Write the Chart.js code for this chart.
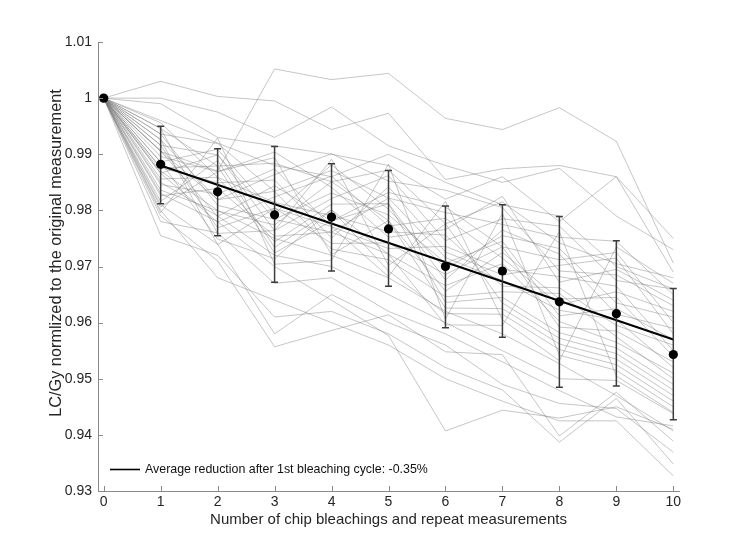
<!DOCTYPE html>
<html><head><meta charset="utf-8">
<script src="https://cdn.jsdelivr.net/npm/chart.js@4.4.0/dist/chart.umd.min.js"></script>
<style>html,body{margin:0;padding:0;background:#fff;}#wrap{width:750px;height:547px;}</style>
</head><body><div id="wrap"><canvas id="c" width="750" height="547"></canvas></div>
<script>
const xValues = [0,1,2,3,4,5,6,7,8,9,10];
const xTickLabels = ['0','1','2','3','4','5','6','7','8','9','10'];
const yTickValues = [0.93,0.94,0.95,0.96,0.97,0.98,0.99,1.00,1.01];
const yTickLabels = ['0.93','0.94','0.95','0.96','0.97','0.98','0.99','1','1.01'];
const xAxisTitle = 'Number of chip bleachings and repeat measurements';
const yAxisTitle = 'LC/Gy normlized to the original measurement';
const legendLabel = 'Average reduction after 1st bleaching cycle: -0.35%';

const meanValues = [1.0000,0.9882,0.9833,0.9792,0.9788,0.9767,0.9700,0.9692,0.9637,0.9616,0.9543];
const errUpper   = [null,0.9950,0.9910,0.9914,0.9883,0.9871,0.9808,0.9810,0.9789,0.9746,0.9661];
const errLower   = [null,0.9812,0.9755,0.9672,0.9692,0.9665,0.9591,0.9574,0.9485,0.9487,0.9427];
const trendX = [1,10];
const trendY = [0.9880,0.9570];

const sH1 = [1,1.0030,1.0003,0.9995,0.9944,0.9973,0.9855,0.9874,0.9880,0.9860,0.9750];
const sH2 = [1,0.9905,0.9870,1.0052,1.0033,1.0044,0.9964,0.9944,0.9983,0.9923,0.9706];
const sH3 = [1,1.0000,0.9975,0.9930,0.9984,0.9915,0.9880,0.9850,0.9875,0.9790,0.9730];
const sH4 = [1,0.9990,0.9930,0.9915,0.9900,0.9880,0.9820,0.9860,0.9780,0.9860,0.9690];
const sH5 = [1,0.9960,0.9920,0.9880,0.9860,0.9900,0.9850,0.9810,0.9790,0.9700,0.9660];
const sL1 = [1,0.9830,0.9780,0.9700,0.9640,0.9577,0.9407,0.9444,0.9430,0.9450,0.9410];
const sL2 = [1,0.9790,0.9710,0.9557,0.9586,0.9614,0.9548,0.9543,0.9398,0.9476,0.9389];
const sL3 = [1,0.9755,0.9720,0.9610,0.9620,0.9580,0.9520,0.9480,0.9387,0.9465,0.9348];
const sL4 = [1,0.9800,0.9680,0.9640,0.9600,0.9560,0.9500,0.9460,0.9425,0.9425,0.9327];
const sL5 = [1,0.9810,0.9740,0.9580,0.9650,0.9600,0.9560,0.9490,0.9456,0.9447,0.9369];
const sL6 = [1,0.9780,0.9760,0.9670,0.9680,0.9620,0.9580,0.9530,0.9479,0.9432,0.9416];
const sL7 = [1,0.9850,0.9790,0.9720,0.9700,0.9650,0.9600,0.9550,0.9500,0.9497,0.9438];
const sL8 = [1,0.9870,0.9800,0.9750,0.9720,0.9680,0.9620,0.9580,0.9527,0.9470,0.9407];
const sM1  = [1,0.9946,0.9879,0.9884,0.9851,0.9872,0.9776,0.9815,0.9742,0.9705,0.9680];
const sM2  = [1,0.9936,0.9919,0.9834,0.9871,0.9822,0.9796,0.9775,0.9752,0.9745,0.9650];
const sM3  = [1,0.9926,0.9819,0.9864,0.9901,0.9852,0.9836,0.9805,0.9692,0.9685,0.9630];
const sM4  = [1,0.9916,0.9899,0.9764,0.9821,0.9862,0.9746,0.9785,0.9772,0.9675,0.9660];
const sM5  = [1,0.9906,0.9789,0.9844,0.9781,0.9832,0.9806,0.9735,0.9712,0.9725,0.9600];
const sM6  = [1,0.9896,0.9869,0.9904,0.9841,0.9752,0.9766,0.9825,0.9672,0.9695,0.9640];
const sM7  = [1,0.9886,0.9909,0.9794,0.9881,0.9802,0.9696,0.9755,0.9732,0.9635,0.9610];
const sM8  = [1,0.9876,0.9849,0.9854,0.9751,0.9842,0.9726,0.9685,0.9702,0.9715,0.9580];
const sM9  = [1,0.9866,0.9779,0.9824,0.9861,0.9772,0.9786,0.9715,0.9632,0.9655,0.9620];
const sM10 = [1,0.9856,0.9859,0.9744,0.9811,0.9812,0.9676,0.9765,0.9722,0.9615,0.9590];
const sM11 = [1,0.9846,0.9829,0.9874,0.9771,0.9732,0.9736,0.9695,0.9682,0.9665,0.9550];
const sM12 = [1,0.9936,0.9809,0.9784,0.9831,0.9792,0.9706,0.9745,0.9612,0.9625,0.9570];
const sM13 = [1,0.9956,0.9859,0.9814,0.9791,0.9762,0.9756,0.9665,0.9662,0.9595,0.9560];
const sM14 = [1,0.9836,0.9799,0.9774,0.9851,0.9782,0.9656,0.9725,0.9642,0.9645,0.9540];
const sM15 = [1,0.9826,0.9839,0.9754,0.9761,0.9822,0.9716,0.9675,0.9622,0.9605,0.9520];
const sM16 = [1,0.9916,0.9769,0.9804,0.9741,0.9742,0.9686,0.9735,0.9592,0.9585,0.9530];
const sM17 = [1,0.9816,0.9889,0.9734,0.9801,0.9722,0.9666,0.9705,0.9602,0.9565,0.9510];
const sM18 = [1,0.9906,0.9819,0.9834,0.9731,0.9712,0.9646,0.9655,0.9652,0.9575,0.9500];
const sM19 = [1,0.9876,0.9879,0.9724,0.9781,0.9812,0.9636,0.9645,0.9582,0.9555,0.9490];
const sM20 = [1,0.9946,0.9759,0.9764,0.9891,0.9702,0.9776,0.9635,0.9572,0.9545,0.9480];
const sM21 = [1,0.9806,0.9869,0.9894,0.9721,0.9782,0.9626,0.9625,0.9562,0.9535,0.9470];
const sM22 = [1,0.9886,0.9749,0.9714,0.9801,0.9692,0.9616,0.9615,0.9552,0.9525,0.9460];
const sM23 = [1,0.9796,0.9929,0.9704,0.9711,0.9882,0.9606,0.9795,0.9542,0.9515,0.9450];
const sM24 = [1,0.9926,0.9739,0.9804,0.9771,0.9682,0.9816,0.9605,0.9532,0.9735,0.9670];
const sM25 = [1,0.9866,0.9899,0.9784,0.9761,0.9722,0.9596,0.9595,0.9762,0.9505,0.9440];

const measurementSeries = [sH1,sH2,sH3,sH4,sH5,sL1,sL2,sL3,sL4,sL5,sL6,sL7,sL8,
  sM1,sM2,sM3,sM4,sM5,sM6,sM7,sM8,sM9,sM10,sM11,sM12,sM13,sM14,sM15,sM16,sM17,sM18,sM19,sM20,sM21,sM22,sM23,sM24,sM25];

const FONT = '"Liberation Sans", Arial, Helvetica, sans-serif';
const TXT = '#262626';
const AXC = '#8a8a8a';

const toPts = (xs, ys) => xs.map((x,i)=>({x:x, y:ys[i]}));

const datasets = [];
datasets.push({label:'mean', data: toPts(xValues, meanValues), showLine:false,
  pointRadius:4.6, pointHoverRadius:4.6, pointBackgroundColor:'#000', pointBorderColor:'#000', pointBorderWidth:0, order:0});
datasets.push({label:'trend', data: toPts(trendX, trendY), borderColor:'#000', borderWidth:2,
  pointRadius:0, fill:false, tension:0, order:1});
measurementSeries.forEach((s,i)=>{
  datasets.push({label:'m'+i, data: toPts(xValues, s), borderColor:'rgba(120,120,120,0.42)', borderWidth:1,
    pointRadius:0, fill:false, tension:0, order:2});
});

const errorBars = {
  id:'errorBars',
  beforeDatasetDraw(chart, args){
    if (args.index !== 0) return;
    const {ctx, scales:{x, y}} = chart;
    ctx.save();
    ctx.strokeStyle = '#3c3c3c';
    ctx.lineWidth = 1.5;
    xValues.forEach((xv,i)=>{
      if (errUpper[i]==null) return;
      const px = x.getPixelForValue(xv);
      const pu = y.getPixelForValue(errUpper[i]);
      const pl = y.getPixelForValue(errLower[i]);
      ctx.beginPath();
      ctx.moveTo(px, pu); ctx.lineTo(px, pl);
      ctx.moveTo(px-3.5, pu); ctx.lineTo(px+3.5, pu);
      ctx.moveTo(px-3.5, pl); ctx.lineTo(px+3.5, pl);
      ctx.stroke();
    });
    ctx.restore();
  }
};

const decor = {
  id:'decor',
  afterDraw(chart){
    const {ctx, chartArea:a, scales:{x, y}} = chart;
    ctx.save();
    ctx.strokeStyle = AXC; ctx.lineWidth = 1;
    ctx.beginPath();
    xValues.forEach(v=>{ const px=Math.round(x.getPixelForValue(v))+0.5; ctx.moveTo(px, a.bottom); ctx.lineTo(px, a.bottom-5); });
    yTickValues.forEach(v=>{ const py=Math.round(y.getPixelForValue(v))+0.5; ctx.moveTo(a.left, py); ctx.lineTo(a.left+5, py); });
    ctx.stroke();
    // y axis title
    ctx.save();
    ctx.translate(57, 253);
    ctx.rotate(-Math.PI/2);
    ctx.fillStyle = TXT; ctx.font = '16.3px ' + FONT; ctx.textAlign = 'center'; ctx.textBaseline = 'middle';
    ctx.fillText(yAxisTitle, 0, 0);
    ctx.restore();
    // legend
    const ly = 469.5;
    ctx.strokeStyle = '#000'; ctx.lineWidth = 1.6;
    ctx.beginPath(); ctx.moveTo(110, ly); ctx.lineTo(140, ly); ctx.stroke();
    ctx.fillStyle = '#111'; ctx.font = '12.4px ' + FONT; ctx.textBaseline = 'middle'; ctx.textAlign='left';
    ctx.fillText(legendLabel, 145, ly);
    ctx.restore();
  }
};

new Chart(document.getElementById('c'), {
  type:'line',
  data:{datasets},
  plugins:[errorBars, decor],
  options:{
    responsive:false, animation:false, devicePixelRatio:1,
    layout:{padding:{left:0, top:42, right:71, bottom:0}},
    plugins:{legend:{display:false}, tooltip:{enabled:false}},
    scales:{
      x:{type:'linear', min:-0.1, max:10.1,
        afterBuildTicks: s => { s.ticks = xValues.map(v=>({value:v})); },
        afterFit: s => { s.height = 56; },
        ticks:{padding:3, color:TXT, font:{family:FONT, size:14}, maxRotation:0, autoSkip:false,
          callback:(v,i)=> xTickLabels[i]},
        grid:{display:true, drawOnChartArea:false, drawTicks:false},
        border:{display:true, color:AXC, width:1},
        title:{display:true, text:xAxisTitle, color:TXT, font:{family:FONT, size:15}, padding:{top:0,bottom:18}}
      },
      y:{type:'linear', min:0.93, max:1.01,
        afterBuildTicks: s => { s.ticks = yTickValues.map(v=>({value:v})); },
        afterFit: s => { s.width = 98; },
        ticks:{padding:6, color:TXT, font:{family:FONT, size:14}, autoSkip:false,
          callback:(v,i)=> yTickLabels[i]},
        grid:{display:true, drawOnChartArea:false, drawTicks:false},
        border:{display:true, color:AXC, width:1},
        title:{display:false}
      }
    }
  }
});
</script></body></html>
